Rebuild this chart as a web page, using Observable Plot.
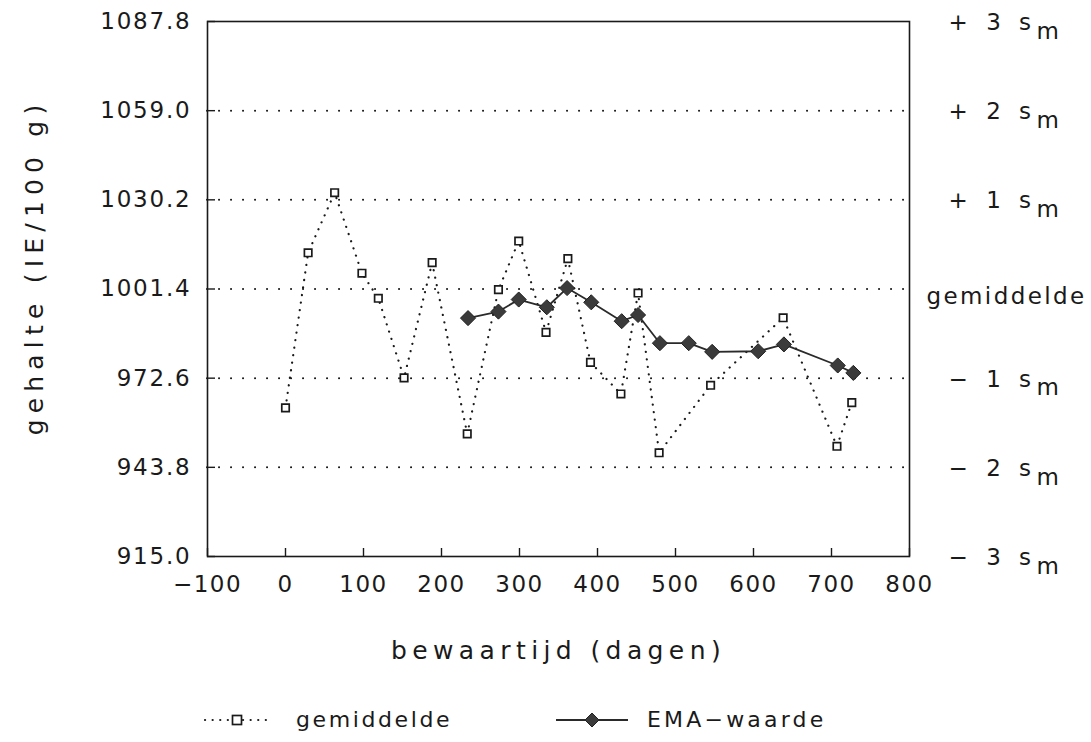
<!DOCTYPE html>
<html>
<head>
<meta charset="utf-8">
<script src="https://cdn.jsdelivr.net/npm/d3@7"></script>
<script src="https://cdn.jsdelivr.net/npm/@observablehq/plot@0.6"></script>
<style>
  html, body { margin: 0; padding: 0; background: #fff; }
  #wrap { position: relative; width: 1091px; height: 742px; background: #fff; font-family: "DejaVu Sans", sans-serif; color: #1a1a1a; }
  #wrap svg text { fill: #1a1a1a; }
  #legend { position: absolute; left: 0; top: 701px; width: 1091px; height: 41px; font-size: 22px; letter-spacing: 2.6px; }
  #legend .item { position: absolute; top: 6px; display: flex; align-items: center; }
</style>
</head>
<body>
<div id="wrap">
  <div id="chart"></div>
  <div id="legend"></div>
</div>
<script>
// ---- data ----
const xTicks = [-100, 0, 100, 200, 300, 400, 500, 600, 700, 800];
const yTicks = [915.0, 943.8, 972.6, 1001.4, 1030.2, 1059.0, 1087.8];
const sigmaLabels = ["− 3 s", "− 2 s", "− 1 s", "gemiddelde", "+ 1 s", "+ 2 s", "+ 3 s"];

// gemiddelde (mean values)
const gemDays = [0, 29, 63, 98, 119, 152, 188, 233, 273, 299, 334, 362, 391, 430, 452, 479, 545, 638, 707, 726];
const gemVals = [963.0, 1013.1, 1032.5, 1006.5, 998.4, 972.7, 1009.9, 954.6, 1001.2, 1016.9, 987.4, 1011.2, 977.7, 967.5, 1000.1, 948.5, 970.3, 992.1, 950.6, 964.7];

// EMA-waarde
const emaDays = [234, 273, 299, 335, 361, 392, 431, 452, 480, 517, 547, 606, 639, 708, 728];
const emaVals = [992.0, 994.1, 998.0, 995.5, 1001.7, 997.1, 991.0, 993.0, 983.9, 983.9, 981.1, 981.3, 983.5, 976.7, 974.3];

const gem = gemDays.map((d, i) => ({day: d, value: gemVals[i]}));
const ema = emaDays.map((d, i) => ({day: d, value: emaVals[i]}));

const ink = "#1a1a1a";

const chart = Plot.plot({
  width: 1091,
  height: 690,
  marginLeft: 207,
  marginRight: 182,
  marginTop: 21,
  marginBottom: 134,
  style: {fontFamily: "'DejaVu Sans', sans-serif", fontSize: "22px", color: ink, background: "#fff"},
  x: {domain: [-100, 800]},
  y: {domain: [915.0, 1087.8]},
  marks: [
    Plot.ruleY(yTicks.slice(1, -1), {stroke: ink, strokeWidth: 2, strokeDasharray: "0.1 11.9", strokeLinecap: "round"}),
    Plot.frame({stroke: ink, strokeWidth: 1.6}),
    Plot.axisX({
      ticks: xTicks, tickSize: -8, tickPadding: 27, strokeWidth: 1.4,
      tickFormat: d => d < 0 ? "−" + Math.abs(d) : String(d),
      label: "bewaartijd (dagen)", labelAnchor: "center", labelArrow: "none", labelOffset: 102
    }),
    Plot.axisY({
      anchor: "left", ticks: yTicks, tickSize: -8, tickPadding: 24, strokeWidth: 1.4,
      tickFormat: d => d.toFixed(1),
      label: "gehalte (IE/100 g)", labelAnchor: "center", labelArrow: "none", labelOffset: 182
    }),
    Plot.axisY({
      anchor: "right", ticks: yTicks, tickSize: 0, tickPadding: 97, textAnchor: "middle",
      tickFormat: (d, i) => sigmaLabels[i], label: null
    }),
    Plot.line(gem, {x: "day", y: "value", stroke: ink, strokeWidth: 2.2, strokeDasharray: "0.1 7.5", strokeLinecap: "round"}),
    Plot.dot(gem, {x: "day", y: "value", symbol: "square", r: 4.2, stroke: ink, fill: "#fff", strokeWidth: 1.7}),
    Plot.line(ema, {x: "day", y: "value", stroke: "#2a2a2a", strokeWidth: 1.8}),
    Plot.dot(ema, {x: "day", y: "value", symbol: "diamond2", r: 6.8, stroke: "#222", fill: "#3b3b3b", strokeWidth: 1})
  ]
});
document.getElementById("chart").appendChild(chart);

const svg = d3.select(chart);
// tick label styling
const ytl = svg.selectAll('g[aria-label="y-axis tick label"]');
const xtl = svg.selectAll('g[aria-label="x-axis tick label"]');
xtl.attr("font-size", 23).style("letter-spacing", "1.5px");
ytl.filter((d, i) => i === 0).attr("font-size", 23).style("letter-spacing", "1.8px");
const rlab = ytl.filter((d, i) => i === 1);
rlab.attr("font-size", 23);
rlab.selectAll("text").each(function() {
  const t = d3.select(this);
  const txt = t.text();
  if (txt.endsWith(" s")) {
    t.style("letter-spacing", "5.5px").attr("dy", "0.05em");
    t.append("tspan").attr("dy", "0.38em").text("m");
  } else {
    t.style("letter-spacing", "2.4px").attr("dy", "0.32em");
  }
});
// axis labels
svg.selectAll('g[aria-label="x-axis label"]').attr("font-size", 25).style("letter-spacing", "5.4px");
const yl = svg.selectAll('g[aria-label="y-axis label"]').attr("font-size", 25).style("letter-spacing", "6.2px");
yl.selectAll("text").attr("transform", function() {
  return (d3.select(this).attr("transform") || "") + " translate(22,0)";
});

// legend (HTML, below the plot)
const legend = d3.select("#legend");
const i1 = legend.append("div").attr("class", "item").style("left", "203px");
const s1 = i1.append("svg").attr("width", 68).attr("height", 24).style("margin-right", "25px");
s1.append("line").attr("x1", 2).attr("x2", 66).attr("y1", 12).attr("y2", 12)
  .attr("stroke", ink).attr("stroke-width", 2.2).attr("stroke-dasharray", "0.1 7.5").attr("stroke-linecap", "round");
s1.append("rect").attr("x", 29.5).attr("y", 7.5).attr("width", 9).attr("height", 9)
  .attr("fill", "#fff").attr("stroke", ink).attr("stroke-width", 1.7);
i1.append("span").text("gemiddelde");

const i2 = legend.append("div").attr("class", "item").style("left", "556px");
const s2 = i2.append("svg").attr("width", 72).attr("height", 24).style("margin-right", "19px");
s2.append("line").attr("x1", 0).attr("x2", 72).attr("y1", 12).attr("y2", 12)
  .attr("stroke", "#2a2a2a").attr("stroke-width", 1.8);
s2.append("path").attr("d", "M36,5 L43,12 L36,19 L29,12 Z").attr("fill", "#3b3b3b").attr("stroke", "#222");
i2.append("span").style("letter-spacing", "3.2px").text("EMA−waarde");
</script>
</body>
</html>
